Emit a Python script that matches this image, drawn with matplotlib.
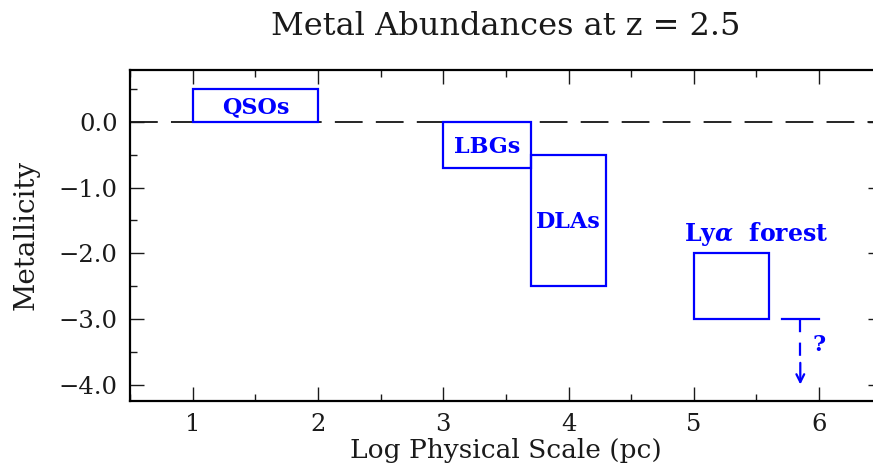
import matplotlib
matplotlib.use("Agg")
import matplotlib.pyplot as plt
from matplotlib.patches import Rectangle
from matplotlib.ticker import MultipleLocator, FuncFormatter

# metallicity ranges per population: log scale (pc) and [Z] extents
names = ["QSOs", "LBGs", "DLAs", r"Ly$\boldsymbol{\alpha}$  forest"]
x_lo = [1.0, 3.0, 3.7, 5.0]
x_hi = [2.0, 3.7, 4.3, 5.6]
z_lo = [0.0, -0.7, -2.5, -3.0]
z_hi = [0.5, 0.0, -0.5, -2.0]
label_x = [1.5, 3.35, 4.0, 5.5]
label_y = [0.22, -0.38, -1.53, -1.71]
label_size = [16, 16, 16, 17]

# upper limit on the most diffuse gas
lim_x = 5.85
lim_bar = [5.7, 6.0]
lim_top = -3.0
lim_tip = -4.0

plt.rcParams["font.family"] = ["DejaVu Serif"]
plt.rcParams["mathtext.fontset"] = "dejavuserif"
plt.rcParams["lines.scale_dashes"] = False
blue = "#0000ff"
ink = "#1a1a1a"

fig = plt.figure(figsize=(8.73, 4.70), dpi=100)
ax = fig.add_axes([0.149, 0.147, 0.861, 0.705])

ax.set_xlim(0.5, 6.5)
ax.set_ylim(-4.25, 0.8)

# solar metallicity reference
ax.axhline(0.0, color="black", lw=1.2, dashes=(20, 9.5), zorder=1)

for i in range(len(names)):
    ax.add_patch(Rectangle((x_lo[i], z_lo[i]), x_hi[i] - x_lo[i], z_hi[i] - z_lo[i],
                           fill=False, edgecolor=blue, lw=1.6, zorder=2))
    ax.text(label_x[i], label_y[i], names[i], color=blue, fontsize=label_size[i],
            fontweight="bold", ha="center", va="center")

ax.plot(lim_bar, [lim_top, lim_top], color=blue, lw=1.6)
ax.plot([lim_x, lim_x], [lim_top, -3.67], color=blue, lw=1.6, dashes=(9.5, 7.5))
ax.annotate("", xy=(lim_x, lim_tip), xytext=(lim_x, -3.67),
            arrowprops=dict(arrowstyle="->", color=blue, lw=1.6,
                            shrinkA=0, shrinkB=0, mutation_scale=14))
ax.text(6.0, -3.4, "?", color=blue, fontsize=16, fontweight="bold",
        ha="center", va="center")

ax.xaxis.set_major_locator(MultipleLocator(1))
ax.xaxis.set_minor_locator(MultipleLocator(0.5))
ax.yaxis.set_major_locator(MultipleLocator(1))
ax.yaxis.set_minor_locator(MultipleLocator(0.5))
ax.yaxis.set_major_formatter(FuncFormatter(lambda v, p: f"{v:.1f}".replace("-", "\u2212")))
ax.tick_params(which="both", direction="in", top=True, right=True, width=1.0,
               labelsize=17.5, colors=ink)
ax.tick_params(which="major", length=10, pad=9)
ax.tick_params(which="minor", length=5)
for s in ax.spines.values():
    s.set_linewidth(1.6)

ax.set_xlabel("Log Physical Scale (pc)", fontsize=19, color=ink, labelpad=1)
ax.set_ylabel("Metallicity", fontsize=20, color=ink, labelpad=14)
ax.set_title("Metal Abundances at z = 2.5", fontsize=23, color=ink, pad=25)

fig.savefig("out.png", dpi=100)
